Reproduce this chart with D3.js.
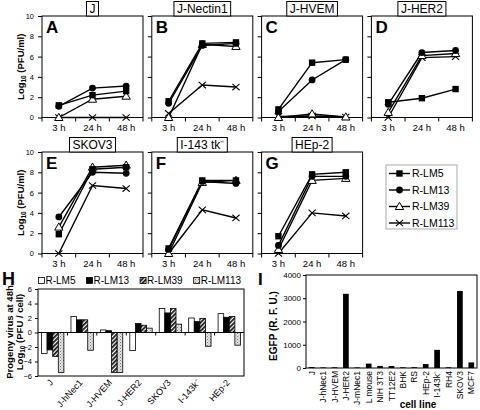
<!DOCTYPE html>
<html><head><meta charset="utf-8">
<script src="https://cdn.jsdelivr.net/npm/d3@7"></script>
<style>body{margin:0;background:#fff}svg{display:block;font-family:"Liberation Sans",Arial,Helvetica,sans-serif}text{fill:#000}</style>
</head><body><svg id="c" width="480" height="410"></svg>
<script>
// ---------- data ----------
const timePoints = ["3 h", "24 h", "48 h"];
const seriesNames = ["R-LM5", "R-LM13", "R-LM39", "R-LM113"];
const panelTitles = ["J", "J-Nectin1", "J-HVEM", "J-HER2", "SKOV3", "I-143 tk\u207B", "HEp-2"];
const panelLetters = ["A", "B", "C", "D", "E", "F", "G"];
const rlm5 = [[1.2, 2.2, 2.6], [1.6, 7.3, 7.4], [0.8, 5.4, 5.7], [1.5, 1.9, 2.8], [1.9, 8.3, 8.5], [0.5, 7.2, 7.2], [1.7, 7.8, 8.0]];
const rlm13 = [[1.1, 2.9, 3.1], [1.4, 7.1, 7.3], [0.6, 3.7, 5.7], [1.3, 6.4, 6.6], [3.6, 8.0, 7.9], [0.4, 7.1, 6.9], [0.8, 7.6, 7.6]];
const rlm39 = [[0, 1.8, 2.1], [0, 7.2, 7.0], [0, 0.35, 0.05], [0.5, 6.1, 6.3], [2.6, 8.5, 8.7], [0, 7.0, 7.2], [0.4, 7.2, 7.4]];
const rlm113 = [[0, 0, 0], [0.4, 3.2, 3.0], [0.1, 0.15, 0.05], [0, 5.9, 6.0], [0, 6.7, 6.4], [0, 4.3, 3.5], [0, 4.0, 3.7]];
const lineTicks = [0, 2, 4, 6, 8, 10];

const hCategories = ["J", "J-hNec1", "J-HVEM", "J-HER2", "SKOV3", "I-143k\u207B", "HEp-2"];
const hLM5 = [-2.9, 2.2, 0.35, -2.5, 3.3, 2.0, 2.6];
const hLM13 = [-2.4, 1.75, 0.25, 1.25, 2.7, 1.5, 2.1];
const hLM39 = [-3.3, 1.75, -5.5, 1.0, 3.3, 1.95, 2.2];
const hLM113 = [-5.5, -2.45, -5.5, 0.6, 1.15, -1.9, -1.75];
const hTicks = [-6, -4, -2, 0, 2, 4, 6];

const iCategories = ["J", "J-hNec1", "J-HVEM", "J-HER2", "J-mNec1", "L mouse", "NIH 3T3", "TT12E2", "BHK", "RS", "HEp-2", "I-143k\u207B", "RH4", "SKOV3", "MCF7"];
const iValues = [40, 25, 30, 3190, 25, 190, 90, 85, 30, 35, 170, 780, 30, 3310, 240];
const iTicks = [0, 1000, 2000, 3000, 4000];

// ---------- drawing ----------
const svg = d3.select("#c");
const series = [rlm5, rlm13, rlm39, rlm113];

const defs = svg.append("defs");
const hatch = defs.append("pattern").attr("id", "hatch").attr("width", 3).attr("height", 3)
  .attr("patternUnits", "userSpaceOnUse").attr("patternTransform", "rotate(45)");
hatch.append("rect").attr("width", 3).attr("height", 3).attr("fill", "#fff");
hatch.append("rect").attr("width", 1.8).attr("height", 3).attr("fill", "#1a1a1a");
const dots = defs.append("pattern").attr("id", "dots").attr("width", 3).attr("height", 3)
  .attr("patternUnits", "userSpaceOnUse");
dots.append("rect").attr("width", 3).attr("height", 3).attr("fill", "#e4e4e4");
dots.append("rect").attr("width", 1).attr("height", 1).attr("fill", "#777");
dots.append("rect").attr("x", 1.5).attr("y", 1.5).attr("width", 1).attr("height", 1).attr("fill", "#999");

function marker(g, type, cx, cy) {
  if (type === 0) g.append("rect").attr("x", cx - 3.2).attr("y", cy - 3.2).attr("width", 6.4).attr("height", 6.4).attr("fill", "#000");
  else if (type === 1) g.append("circle").attr("cx", cx).attr("cy", cy).attr("r", 3.4).attr("fill", "#000");
  else if (type === 2) g.append("path").attr("d", d3.symbol(d3.symbolTriangle, 30)()).attr("transform", `translate(${cx},${cy + 0.6})`)
    .attr("fill", "#fff").attr("stroke", "#000").attr("stroke-width", 1);
  else {
    g.append("path").attr("d", `M${cx - 3.6},${cy - 3.2}L${cx + 3.6},${cy + 3.2}M${cx - 3.6},${cy + 3.2}L${cx + 3.6},${cy - 3.2}`)
      .attr("stroke", "#000").attr("stroke-width", 1.1);
  }
}

const rowTops = [16, 152];
const panelW = 101, panelH = 101.5;
panelTitles.forEach((title, i) => {
  const row = i < 4 ? 0 : 1, col = i < 4 ? i : i - 4;
  const left = 42 + col * 109.8, top = rowTops[row];
  const x = d3.scaleBand().domain(timePoints).range([left, left + panelW]);
  const y = d3.scaleLinear().domain([0, 10]).range([top + panelH, top]);
  const g = svg.append("g");
  g.append("rect").attr("x", left).attr("y", top).attr("width", panelW).attr("height", panelH)
    .attr("fill", "#fff").attr("stroke", "#000").attr("stroke-width", 1);
  const ya = g.append("g").attr("transform", `translate(${left},0)`)
    .call(d3.axisLeft(y).tickValues(lineTicks).tickSize(4).tickFormat(col === 0 ? d3.format("d") : ""));
  ya.select(".domain").remove();
  ya.selectAll("text").attr("font-size", 7.5).attr("font-family", "Liberation Sans, Arial").attr("dx", "-1");
  // x boundary ticks
  const bounds = timePoints.map(t => x(t)).concat([x(timePoints[2]) + x.bandwidth()]);
  g.selectAll(".xt").data(bounds).enter().append("line")
    .attr("x1", d => d).attr("x2", d => d).attr("y1", top + panelH).attr("y2", top + panelH + 4).attr("stroke", "#000");
  g.selectAll(".xl").data(timePoints).enter().append("text")
    .attr("x", d => x(d) + x.bandwidth() / 2).attr("y", top + panelH + 13).attr("text-anchor", "middle")
    .attr("font-size", 9.5).text(d => d);
  // lines
  const line = d3.line().x((d, j) => x(timePoints[j]) + x.bandwidth() / 2).y(d => y(d));
  [3, 2, 1, 0].forEach(s => {
    g.append("path").attr("d", line(series[s][i])).attr("fill", "none").attr("stroke", "#000").attr("stroke-width", 1.4);
  });
  [3, 2, 1, 0].forEach(s => {
    series[s][i].forEach((v, j) => marker(g, s, x(timePoints[j]) + x.bandwidth() / 2, y(v)));
  });
  // letter
  g.append("text").attr("x", left + 4).attr("y", top + 17).attr("font-size", 17).attr("font-weight", "bold").text(panelLetters[i]);
  // title box
  const tg = g.append("g");
  const tr = tg.append("rect");
  const tt = tg.append("text").attr("x", left + panelW / 2).attr("y", top - 3.5).attr("text-anchor", "middle")
    .attr("font-size", 12).text(title);
  const tw = tt.node().getComputedTextLength();
  tr.attr("x", left + panelW / 2 - tw / 2 - 3).attr("y", top - 14.5)
    .attr("width", tw + 6).attr("height", 14.5).attr("fill", "#fff").attr("stroke", "#000").attr("stroke-width", 1);
  if (col === 0) {
    const cy = top + panelH / 2;
    const t = g.append("text").attr("transform", `translate(24,${cy}) rotate(-90)`).attr("text-anchor", "middle")
      .attr("font-size", 9.5).attr("font-weight", "bold");
    t.append("tspan").text("Log");
    t.append("tspan").attr("font-size", 6.5).attr("dy", 2).text("10");
    t.append("tspan").attr("dy", -2).text(" (PFU/ml)");
  }
});

// legend for line charts
const lg = svg.append("g");
lg.append("rect").attr("x", 386).attr("y", 165).attr("width", 71).attr("height", 64)
  .attr("fill", "#fff").attr("stroke", "#aaa").attr("stroke-width", 1);
seriesNames.forEach((n, s) => {
  const yy = 173.5 + s * 16.5;
  lg.append("line").attr("x1", 389).attr("x2", 410).attr("y1", yy).attr("y2", yy).attr("stroke", "#000").attr("stroke-width", 1.4);
  marker(lg, s, 399.5, yy);
  lg.append("text").attr("x", 412).attr("y", yy + 3.6).attr("font-size", 10.5).text(n);
});

// ---------- panel H ----------
const hData = [hLM5, hLM13, hLM39, hLM113];
const hFills = ["#fff", "#000", "url(#hatch)", "url(#dots)"];
const hx = d3.scaleBand().domain(hCategories).range([38, 244]);
const hx1 = d3.scaleBand().domain(seriesNames).range([hx.bandwidth() * 0.12, hx.bandwidth() * 0.88]);
const hy = d3.scaleLinear().domain([-6, 6]).range([376, 289]);
const hg = svg.append("g");
hg.append("rect").attr("x", 38).attr("y", 289).attr("width", 206).attr("height", 87).attr("fill", "#fff").attr("stroke", "#000");
const hya = hg.append("g").attr("transform", "translate(38,0)").call(d3.axisLeft(hy).tickValues(hTicks).tickSize(3).tickFormat(d3.format("d")));
hya.select(".domain").remove();
hya.selectAll("text").attr("font-size", 7.5).attr("font-family", "Liberation Sans, Arial");
hCategories.forEach((c, ci) => {
  seriesNames.forEach((s, si) => {
    const v = hData[si][ci];
    hg.append("rect").attr("x", hx(c) + hx1(s)).attr("width", hx1.bandwidth())
      .attr("y", hy(Math.max(0, v))).attr("height", Math.abs(hy(v) - hy(0)))
      .attr("fill", hFills[si]).attr("stroke", "#000").attr("stroke-width", 0.8);
  });
});
hg.append("line").attr("x1", 38).attr("x2", 244).attr("y1", hy(0)).attr("y2", hy(0)).attr("stroke", "#000");
hCategories.slice(1).forEach(c => {
  hg.append("line").attr("x1", hx(c)).attr("x2", hx(c)).attr("y1", hy(0)).attr("y2", hy(0) + 3).attr("stroke", "#000");
});
hCategories.forEach(c => {
  const cx = hx(c) + hx.bandwidth() / 2 + 1;
  hg.append("text").attr("transform", `translate(${cx},383) rotate(-48)`).attr("text-anchor", "end")
    .attr("font-size", 9).text(c);
});
hg.append("text").attr("x", 2).attr("y", 285).attr("font-size", 18).attr("font-weight", "bold").text("H");
{
  const cy = 332;
  hg.append("text").attr("transform", `translate(12.5,${cy}) rotate(-90)`).attr("text-anchor", "middle")
    .attr("font-size", 9.5).attr("font-weight", "bold").text("Progeny virus at 48h");
  const t = hg.append("text").attr("transform", `translate(22.5,${cy}) rotate(-90)`).attr("text-anchor", "middle")
    .attr("font-size", 9.5).attr("font-weight", "bold");
  t.append("tspan").text("Log");
  t.append("tspan").attr("font-size", 6.5).attr("dy", 2).text("10");
  t.append("tspan").attr("dy", -2).text(" (PFU / cell)");
}
// H legend
{
  let lx = 38;
  seriesNames.forEach((n, si) => {
    hg.append("rect").attr("x", lx + 0.5).attr("y", 277.5).attr("width", 6).attr("height", 6)
      .attr("fill", hFills[si]).attr("stroke", "#000").attr("stroke-width", 0.8);
    const t = hg.append("text").attr("x", lx + 7.5).attr("y", 284).attr("font-size", 10).text(n);
    lx += 7.5 + t.node().getComputedTextLength() + 10.5;
  });
}

// ---------- panel I ----------
const ix = d3.scaleBand().domain(iCategories).range([306, 477]).paddingInner(0.5).paddingOuter(0.25);
const iy = d3.scaleLinear().domain([0, 4000]).range([368, 275]);
const ig = svg.append("g");
ig.append("rect").attr("x", 306).attr("y", 275).attr("width", 171).attr("height", 93).attr("fill", "#fff").attr("stroke", "#000");
const iya = ig.append("g").attr("transform", "translate(306,0)").call(d3.axisLeft(iy).tickValues(iTicks).tickSize(3).tickFormat(d3.format("d")));
iya.select(".domain").remove();
iya.selectAll("text").attr("font-size", 8).attr("font-family", "Liberation Sans, Arial").attr("dx", "1");
ig.selectAll(".ib").data(iCategories).enter().append("rect")
  .attr("x", d => ix(d)).attr("width", ix.bandwidth())
  .attr("y", (d, k) => iy(iValues[k])).attr("height", (d, k) => iy(0) - iy(iValues[k])).attr("fill", "#000");
iCategories.forEach(c => {
  const cx = ix(c) + ix.bandwidth() / 2 + 3;
  ig.append("text").attr("transform", `translate(${cx},371) rotate(-90)`).attr("text-anchor", "end")
    .attr("font-size", 8.5).text(c);
});
ig.append("text").attr("x", 418).attr("y", 408).attr("text-anchor", "middle").attr("font-size", 10).attr("font-weight", "bold").text("cell line");
ig.append("text").attr("x", 258).attr("y", 285).attr("font-size", 17).attr("font-weight", "bold").text("I");
ig.append("text").attr("transform", "translate(277,326) rotate(-90)").attr("text-anchor", "middle")
  .attr("font-size", 10).attr("font-weight", "bold").text("EGFP (R. F. U.)");
</script></body></html>
